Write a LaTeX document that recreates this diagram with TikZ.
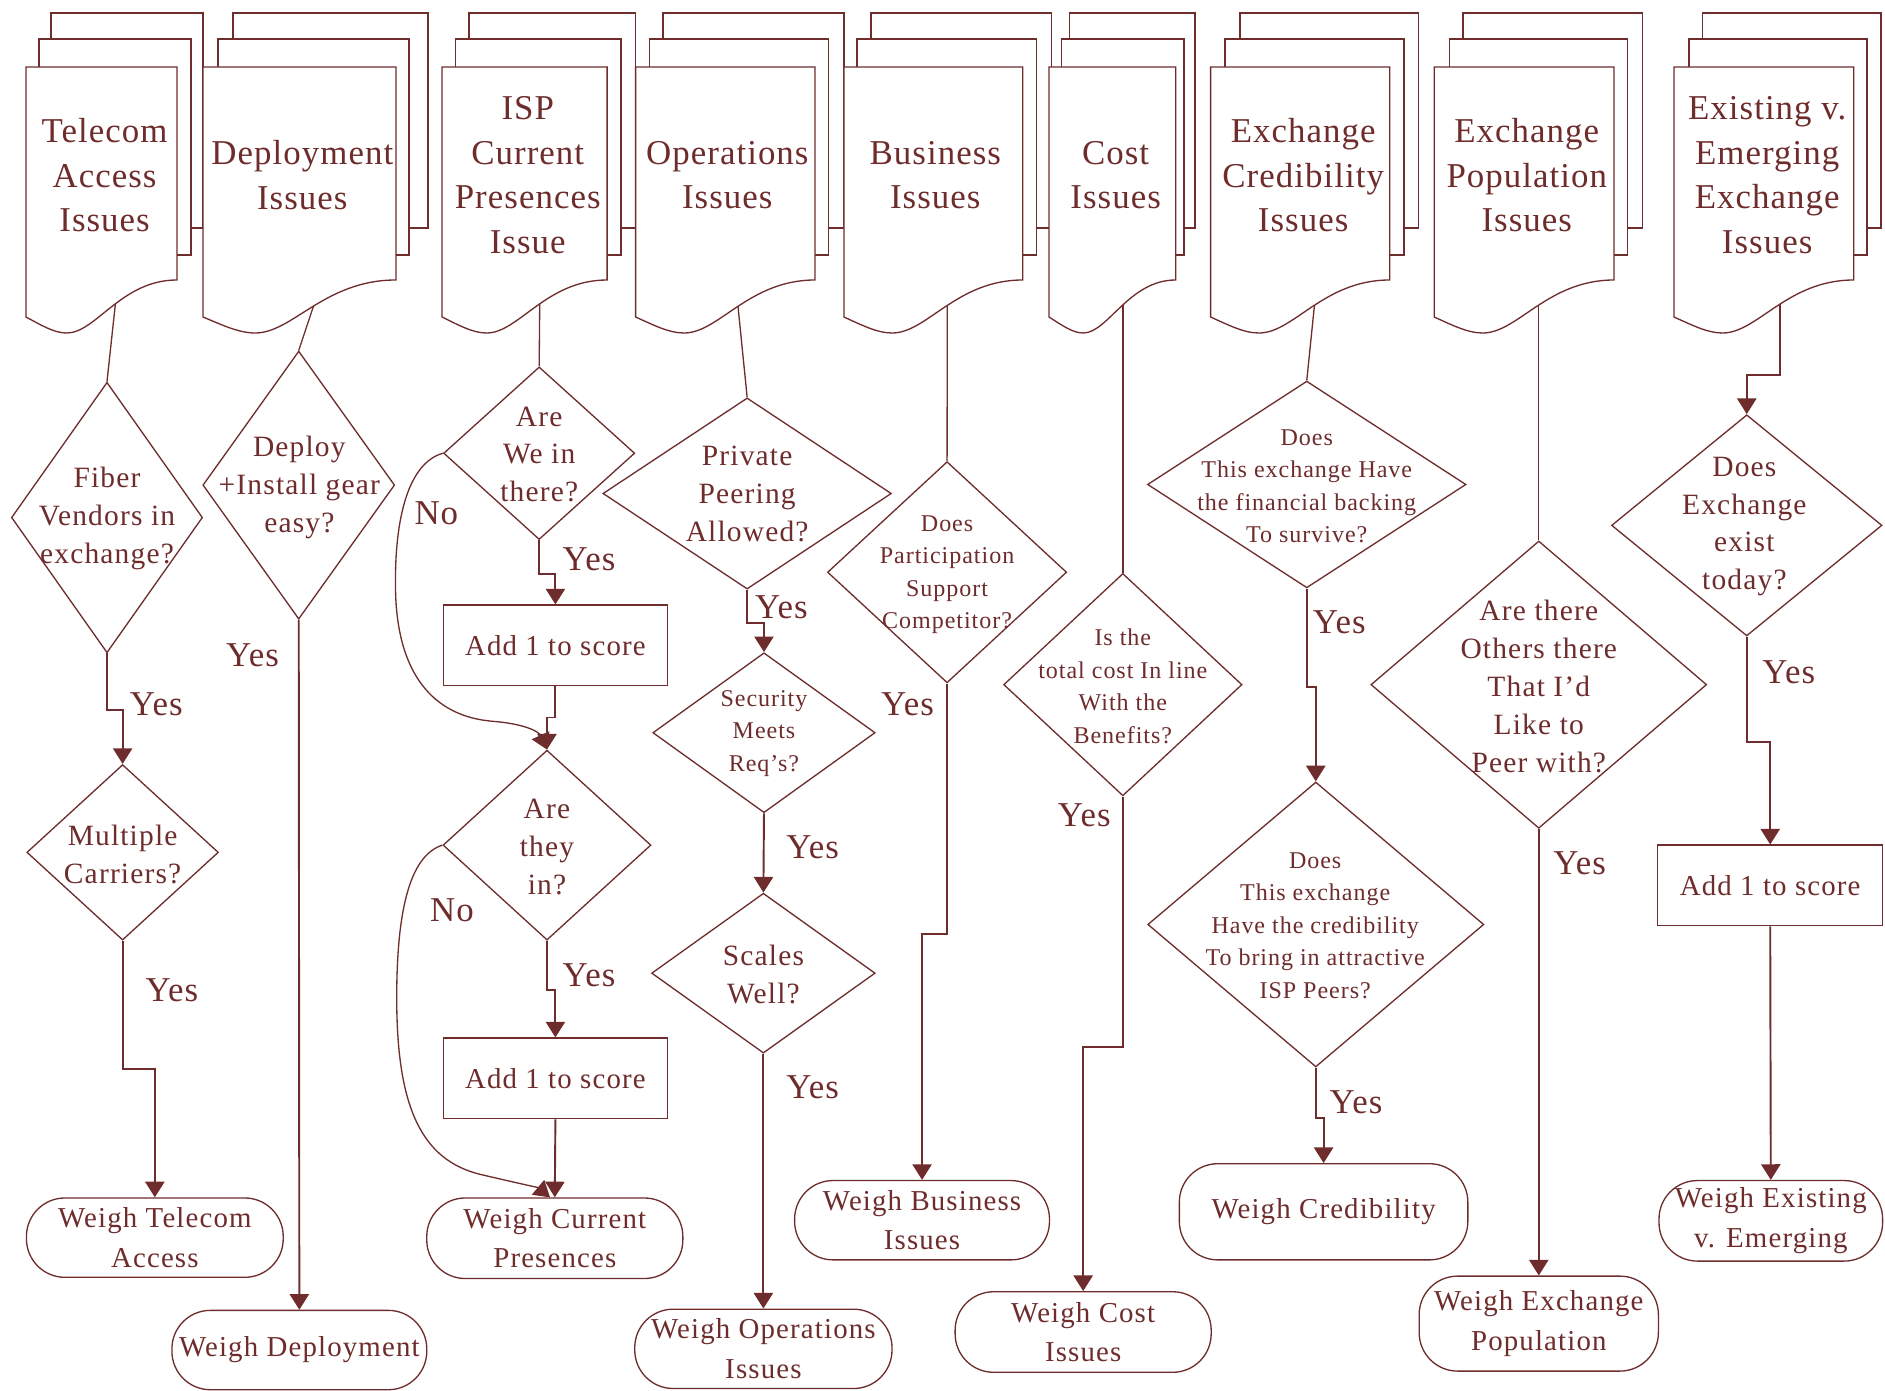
\documentclass[tikz,border=0pt]{standalone}
\usepackage{fontspec}
\setmainfont{Liberation Serif}
\newfontfamily\serifHead[LetterSpace=3]{Liberation Serif}
\newfontfamily\serifText[LetterSpace=4]{Liberation Serif}
\usetikzlibrary{shapes.geometric,arrows.meta}
\definecolor{ink}{RGB}{110,44,44}
\newcommand\hdfont{\serifHead\fontsize{29}{37}\selectfont}
\newcommand\bqfont{\serifText\fontsize{24.5}{31.5}\selectfont}
\newcommand\sqfont{\serifText\fontsize{20}{27}\selectfont}
\newcommand\tmfont{\serifText\fontsize{24}{33}\selectfont}
\newcommand\lbfont{\serifHead\fontsize{29}{29}\selectfont}
% stacked document symbol: front left/right, middle left/right, back left/right
\newcommand\multidoc[6]{%
  \draw[docline] (#5,10.8) rectangle (#6,189.6);
  \draw[docline] (#3,32.4) rectangle (#4,212);
  \draw[docline] (#1,55.7) -- (#2,55.7) -- (#2,232.9)
    .. controls ({#1+0.63*(#2-#1)},232.9) and ({#1+0.464*(#2-#1)},277) .. ({#1+0.27*(#2-#1)},277)
    .. controls ({#1+0.185*(#2-#1)},277) and ({#1+0.099*(#2-#1)},270.3) .. (#1,263.7) -- cycle;
}
\begin{document}
\begin{tikzpicture}[x=1pt,y=-1pt,
  every node/.style={text=ink},
  outline/.style={draw=ink, line width=1.1pt, fill=white},
  docline/.style={draw=ink, line width=1.1pt, fill=white},
  dia/.style={outline, diamond, inner sep=0pt},
  proc/.style={outline, rectangle, inner sep=0pt, font=\tmfont},
  term/.style={outline, rectangle, rounded corners=32pt, inner sep=0pt, align=center, font=\tmfont},
  conn/.style={draw=ink, line width=1.6pt},
  thin/.style={draw=ink, line width=1.1pt},
  arr/.style={conn, -{Triangle[length=13pt,width=16pt]}},
  thinarr/.style={thin, -{Triangle[length=13pt,width=16pt]}},
  head/.style={align=center, font=\hdfont, inner sep=0pt},
  bigq/.style={align=center, font=\bqfont, inner sep=0pt},
  smallq/.style={align=center, font=\sqfont, inner sep=0pt},
  lab/.style={font=\lbfont, inner sep=0pt},
]
\useasboundingbox (0,0) rectangle (1568,1157);

% ---------- decision diamonds ----------
\node[dia, minimum width=159pt, minimum height=225pt] (d1) at (89,430.5) {};
\node[bigq] (d1t) at (89,431.5) {Fiber\\Vendors in\\exchange?};
\node[dia, minimum width=159.6pt, minimum height=223pt] (d2) at (248.5,403.5) {};
\node[bigq] (d2t) at (249,405.5) {Deploy\\+Install gear\\easy?};
\node[dia, minimum width=159pt, minimum height=143.6pt] (d3) at (448.5,377) {};
\node[bigq] (d3t) at (448.5,378) {Are\\We in\\there?};
\node[dia, minimum width=173pt, minimum height=158pt] (d4) at (455,703) {};
\node[bigq] (d4t) at (455,704.5) {Are\\they\\in?};
\node[dia, minimum width=159.4pt, minimum height=146pt] (d5) at (102,709) {};
\node[bigq] (d5t) at (102,710.5) {Multiple\\Carriers?};
\node[dia, minimum width=240pt, minimum height=159pt] (d6) at (621.5,410.5) {};
\node[bigq] (d6t) at (621.5,411) {Private\\Peering\\Allowed?};
\node[dia, minimum width=185pt, minimum height=133pt] (d7) at (635.5,609.5) {};
\node[smallq] (d7t) at (635.5,610) {Security\\Meets\\Req’s?};
\node[dia, minimum width=186pt, minimum height=133pt] (d8) at (635,809.5) {};
\node[bigq] (d8t) at (635,810.5) {Scales\\Well?};
\node[dia, minimum width=199pt, minimum height=184pt] (d9) at (787.8,476) {};
\node[smallq] (d9t) at (787.8,478) {Does\\Participation\\Support\\Competitor?};
\node[dia, minimum width=198.3pt, minimum height=185pt] (d10) at (934,569.5) {};
\node[smallq] (d10t) at (934,571) {Is the\\total cost In line\\With the\\Benefits?};
\node[dia, minimum width=265pt, minimum height=172pt] (d11) at (1087,403) {};
\node[smallq] (d11t) at (1087,404.5) {Does\\This exchange Have\\the financial backing\\To survive?};
\node[dia, minimum width=279.6pt, minimum height=237pt] (d12) at (1094.5,769) {};
\node[smallq] (d12t) at (1094,770) {Does\\This exchange\\Have the credibility\\To bring in attractive\\ISP Peers?};
\node[dia, minimum width=279.3pt, minimum height=239pt] (d13) at (1280,569.5) {};
\node[bigq] (d13t) at (1280,571) {Are there\\Others there\\That I’d\\Like to\\Peer with?};
\node[dia, minimum width=225pt, minimum height=184pt] (d14) at (1453,437) {};
\node[bigq] (d14t) at (1451,438) {Does\\Exchange\\exist\\today?};

% ---------- score boxes ----------
\node[proc, minimum width=186.6pt, minimum height=67pt] (b1) at (462,536.8) {Add 1 to score};
\node[proc, minimum width=186.6pt, minimum height=67pt] (b2) at (462,897) {Add 1 to score};
\node[proc, minimum width=187pt, minimum height=67pt] (b3) at (1472.5,736.5) {Add 1 to score};

% ---------- terminals ----------
\node[term, minimum width=213.6pt, minimum height=66pt] (wt) at (128.8,1029.5) {Weigh Telecom\\Access};
\node[term, minimum width=212pt, minimum height=66pt] (wd) at (249,1123) {Weigh Deployment};
\node[term, minimum width=213pt, minimum height=67pt] (wcp) at (461.5,1030) {Weigh Current\\Presences};
\node[term, minimum width=214pt, minimum height=66pt] (wo) at (635,1122) {Weigh Operations\\Issues};
\node[term, minimum width=212pt, minimum height=66pt] (wb) at (767,1015) {Weigh Business\\Issues};
\node[term, minimum width=213pt, minimum height=67pt] (wc) at (901,1108) {Weigh Cost\\Issues};
\node[term, minimum width=240pt, minimum height=80pt] (wcr) at (1101,1008) {Weigh Credibility};
\node[term, minimum width=199pt, minimum height=79pt] (wep) at (1280,1101) {Weigh Exchange\\Population};
\node[term, minimum width=186pt, minimum height=67pt] (wee) at (1473,1015.5) {Weigh Existing\\v. Emerging};

% ---------- leads from the documents (tops hidden under the documents) ----------
\coordinate (telecom-out) at (96.5,248);
\coordinate (deploy-out) at (263,248);
\coordinate (isp-out) at (449,248);
\coordinate (ops-out) at (613.2,248);
\coordinate (biz-out) at (788,248);
\coordinate (cost-out) at (934,248);
\coordinate (cred-out) at (1094,248);
\coordinate (pop-out) at (1280,248);
\coordinate (exist-out) at (1481,248);
\draw[thin] (telecom-out) -- (d1.north);
\draw[thin] (deploy-out) -- (d2.north);
\draw[thin] (isp-out) -- (d3.north);
\draw[thin] (ops-out) -- (d6.north);
\draw[thin] (biz-out) -- (d9.north);
\draw[thin] (cost-out) -- (d10.north);
\draw[thin] (cred-out) -- (d11.north);
\draw[thin] (pop-out) -- (d13.north);
\draw[arr] (exist-out) -- ++(0,64) -| (d14.north);

% ---------- issue documents ----------
\multidoc{21.6}{147.2}{32.4}{158.9}{42.4}{168.9}
\multidoc{168.9}{329.4}{181.3}{340.2}{193.8}{356}
\multidoc{367.7}{505}{379}{516.6}{390}{528.7}
\multidoc{528.7}{678}{540}{689}{551.5}{702}
\multidoc{702}{850.7}{713}{862}{724.6}{874.8}
\multidoc{872.6}{978}{883}{985}{889.6}{994}
\multidoc{1007}{1156}{1019}{1168}{1031.5}{1180}
\multidoc{1193}{1342.6}{1206}{1354}{1217}{1366}
\multidoc{1392.5}{1542}{1405}{1553}{1416}{1564.6}
\node[head] (telecom) at (87,146) {Telecom\\Access\\Issues};
\node[head] (deploy) at (251.5,145.5) {Deployment\\Issues};
\node[head] (isp) at (439,145.5) {ISP\\Current\\Presences\\Issue};
\node[head] (ops) at (605,145.5) {Operations\\Issues};
\node[head] (biz) at (778,145.5) {Business\\Issues};
\node[head] (cost) at (928,145.5) {Cost\\Issues};
\node[head] (cred) at (1084,146) {Exchange\\Credibility\\Issues};
\node[head] (pop) at (1270,146) {Exchange\\Population\\Issues};
\node[head] (exist) at (1470,145.5) {Existing v.\\Emerging\\Exchange\\Issues};

% ---------- flow connectors ----------
\draw[arr] (d1.south) -- ++(0,47) -| (d5.north);
\draw[arr] (d5.south) -- ++(0,107) -| (wt.north);
\draw[arr] (d2.south) -- (wd.north);
\draw[arr] (d3.south) -- ++(0,28) -| (b1.north);
\draw[arr] (b1.south) -- ++(0,26) -| (d4.north);
\draw[arr] (d4.south) -- ++(0,41) -| (b2.north);
\draw[arr] (b2.south) -- (wcp.north);
\draw[thinarr] (d3.west) .. controls (340,385) and (328,430) .. (329,490)
  .. controls (330,560) and (360,596) .. (410,600)
  .. controls (435,602) and (448,608) .. (d4.north);
\draw[thinarr] (d4.west) .. controls (340,712) and (330,760) .. (330,830)
  .. controls (330,920) and (350,965) .. (400,977)
  .. controls (430,984) and (448,988) .. ([xshift=-4pt]wcp.north);
\draw[arr] (d6.south) -- ++(0,28) -| (d7.north);
\draw[arr] (d7.south) -- (d8.north);
\draw[arr] (d8.south) -- (wo.north);
\draw[arr] (d9.south) -- ++(0,208) -| (wb.north);
\draw[arr] (d10.south) -- ++(0,208) -| (wc.north);
\draw[arr] (d11.south) -- ++(0,82) -| (d12.north);
\draw[arr] (d12.south) -- ++(0,42) -| (wcr.north);
\draw[arr] (d13.south) -- (wep.north);
\draw[arr] (d14.south) -- ++(0,88) -| (b3.north);
\draw[arr] (b3.south) -- (wee.north);

% ---------- branch labels ----------
\node[lab] (y1) at (130,586) {Yes};
\node[lab] (y2) at (143,824) {Yes};
\node[lab] (y3) at (210,545) {Yes};
\node[lab] (y4) at (490,465) {Yes};
\node[lab] (y5) at (490,811) {Yes};
\node[lab] (n1) at (363,427) {No};
\node[lab] (n2) at (376,757) {No};
\node[lab] (y6) at (650,505) {Yes};
\node[lab] (y7) at (676,705) {Yes};
\node[lab] (y8) at (676,904) {Yes};
\node[lab] (y9) at (755,586) {Yes};
\node[lab] (y10) at (902,678) {Yes};
\node[lab] (y11) at (1114,518) {Yes};
\node[lab] (y12) at (1128,917) {Yes};
\node[lab] (y13) at (1314,718) {Yes};
\node[lab] (y14) at (1488,559) {Yes};
\end{tikzpicture}
\end{document}
